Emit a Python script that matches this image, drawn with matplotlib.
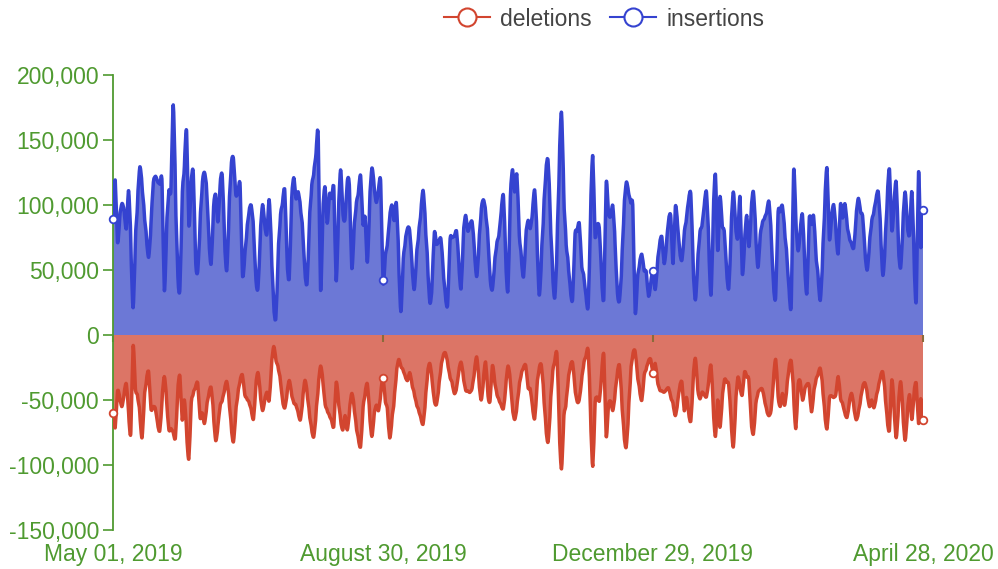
import numpy as np
import pandas as pd
import matplotlib
matplotlib.use("Agg")
import matplotlib.pyplot as plt
from matplotlib.lines import Line2D
from matplotlib.path import Path
from matplotlib.patches import PathPatch
from matplotlib.ticker import FuncFormatter

plt.rcParams['font.family'] = ['Liberation Sans', 'DejaVu Sans']

# daily values, May 01 2019 .. April 28 2020 (in thousands)
insertions = [
    89, 119, 72, 90, 101, 95, 82, 111, 70, 21,
    70, 102, 129, 115, 94, 75, 60, 85, 115, 122,
    118, 116, 115, 35, 80, 110, 114, 177, 110, 50,
    37, 104, 130, 156, 85, 115, 123, 60, 50, 85,
    115, 125, 110, 75, 55, 95, 108, 87, 115, 121,
    75, 50, 95, 130, 135, 109, 110, 113, 48, 60,
    80, 95, 99, 80, 45, 37, 75, 100, 85, 78,
    104, 65, 25, 14, 60, 90, 102, 110, 60, 45,
    100, 121, 105, 110, 98, 80, 50, 41, 85, 113,
    125, 140, 150, 36, 90, 114, 86, 108, 105, 111,
    42, 90, 127, 95, 90, 118, 111, 52, 80, 100,
    110, 122, 86, 90, 56, 100, 128, 115, 102, 112,
    115, 42, 60, 71, 90, 100, 88, 101, 60, 18,
    55, 72, 82, 79, 55, 35, 60, 78, 95, 111,
    85, 55, 25, 40, 78, 70, 72, 73, 50, 30,
    25, 71, 75, 76, 79, 55, 36, 75, 92, 80,
    85, 86, 65, 45, 70, 95, 104, 94, 75, 45,
    35, 55, 70, 78, 95, 106, 60, 35, 100, 127,
    110, 123, 81, 60, 45, 75, 88, 82, 95, 111,
    75, 31, 60, 95, 125, 133, 90, 50, 29, 70,
    130, 171, 110, 73, 55, 35, 29, 75, 80, 85,
    55, 45, 30, 25, 90, 138, 78, 85, 80, 45,
    31, 115, 95, 91, 99, 70, 35, 27, 55, 95,
    117, 110, 102, 95, 19, 42, 55, 62, 50, 48,
    30, 40, 49, 35, 55, 70, 75, 55, 70, 88,
    90, 55, 98, 85, 65, 58, 78, 90, 104, 106,
    55, 27, 55, 78, 85, 100, 109, 70, 31, 90,
    123, 65, 106, 85, 78, 50, 37, 80, 110, 85,
    75, 106, 48, 70, 92, 68, 95, 110, 80, 52,
    75, 86, 90, 95, 102, 75, 40, 31, 91, 95,
    99, 80, 60, 35, 27, 125, 90, 65, 80, 92,
    55, 33, 88, 85, 91, 63, 45, 27, 60, 100,
    128, 75, 90, 100, 80, 63, 100, 90, 101, 85,
    75, 70, 68, 90, 105, 95, 90, 65, 50, 70,
    87, 95, 105, 109, 80, 46, 70, 105, 127, 81,
    100, 117, 70, 52, 85, 110, 85, 78, 110, 60,
    28, 125, 68, 96,
]

deletions = [
    -60, -71, -44, -48, -55, -45, -38, -60, -74, -9,
    -40, -47, -60, -79, -50, -35, -29, -56, -55, -57,
    -68, -73, -50, -32, -50, -72, -72, -75, -78, -45,
    -32, -65, -50, -75, -95, -55, -45, -40, -38, -63,
    -60, -68, -55, -45, -41, -60, -81, -70, -55, -50,
    -42, -36, -50, -70, -82, -60, -45, -35, -31, -45,
    -49, -52, -58, -64, -40, -29, -45, -58, -50, -44,
    -50, -25, -9, -19, -25, -35, -50, -56, -45, -35,
    -45, -52, -54, -60, -65, -50, -35, -45, -60, -72,
    -78, -60, -40, -24, -35, -52, -58, -62, -66, -69,
    -37, -50, -65, -73, -62, -73, -58, -45, -55, -70,
    -80, -85, -58, -45, -38, -60, -78, -62, -54, -58,
    -45, -33, -50, -58, -79, -65, -50, -30, -19, -24,
    -27, -32, -35, -29, -38, -45, -53, -58, -64, -68,
    -50, -30, -22, -35, -50, -53, -40, -25, -16, -14,
    -22, -32, -37, -45, -40, -28, -21, -32, -42, -43,
    -44, -40, -28, -17, -35, -50, -35, -21, -45, -50,
    -24, -35, -45, -50, -54, -56, -40, -24, -35, -55,
    -65, -55, -40, -30, -25, -24, -40, -42, -55, -64,
    -40, -26, -24, -45, -70, -82, -55, -30, -20, -17,
    -70, -103, -65, -53, -35, -24, -22, -40, -51, -49,
    -35, -22, -16, -14, -60, -101, -55, -48, -50, -30,
    -17, -77, -55, -51, -58, -45, -30, -24, -50, -75,
    -86, -60, -30, -15, -13, -30, -42, -50, -32, -26,
    -20, -19, -29, -22, -35, -42, -43, -44, -42, -41,
    -48, -53, -62, -52, -40, -37, -58, -48, -60, -65,
    -35, -18, -40, -49, -44, -46, -47, -35, -24, -55,
    -78, -50, -71, -50, -35, -36, -40, -65, -86, -55,
    -33, -40, -46, -29, -32, -36, -65, -76, -55, -45,
    -42, -42, -50, -58, -62, -56, -35, -19, -45, -55,
    -45, -54, -40, -25, -21, -45, -72, -40, -36, -50,
    -42, -38, -40, -59, -45, -35, -30, -26, -40, -60,
    -72, -50, -47, -48, -45, -32, -48, -53, -60, -63,
    -52, -45, -55, -65, -60, -50, -40, -37, -45, -55,
    -50, -56, -48, -40, -32, -29, -45, -65, -72, -35,
    -55, -79, -55, -36, -60, -81, -60, -46, -65, -45,
    -38, -68, -49, -65,
]

dates = pd.date_range("2019-05-01", periods=len(insertions), freq="D")
label_idx = [0, 121, 242, 363]

green = '#4f9a30'
ins_line = '#3543d0'
ins_fill = '#6c78d6'
del_line = '#d2452f'
del_fill = '#dc7566'


def smooth_verts(xs, ys, k=1 / 5):
    # cubic bezier segments through every data point (like a smoothed line series)
    n = len(xs)
    verts = [(xs[0], ys[0])]
    codes = [Path.MOVETO]
    for i in range(n - 1):
        a = max(i - 1, 0)
        b = min(i + 2, n - 1)
        c1 = (xs[i] + (xs[i + 1] - xs[a]) * k / 2, ys[i] + (ys[i + 1] - ys[a]) * k)
        c2 = (xs[i + 1] - (xs[b] - xs[i]) * k / 2, ys[i + 1] - (ys[b] - ys[i]) * k)
        verts += [c1, c2, (xs[i + 1], ys[i + 1])]
        codes += [Path.CURVE4] * 3
    return verts, codes


def draw_series(ax, xs, ys, line_c, fill_c):
    verts, codes = smooth_verts(xs, ys)
    area = Path(verts + [(xs[-1], 0), (xs[0], 0), (xs[0], ys[0])],
                codes + [Path.LINETO, Path.LINETO, Path.CLOSEPOLY])
    ax.add_patch(PathPatch(area, facecolor=fill_c, lw=0, zorder=1))
    ax.add_patch(PathPatch(Path(verts, codes), fill=False, edgecolor=line_c, lw=2.5,
                           joinstyle='round', capstyle='round', zorder=3))
    ax.plot(xs[label_idx], ys[label_idx], ls='none', marker='o', ms=5.5, mfc='white',
            mec=line_c, mew=1.3, zorder=4, clip_on=False)


ins = np.array(insertions) * 1000
dels = np.array(deletions) * 1000
x = np.arange(len(ins))

fig = plt.figure(figsize=(9.98, 5.69), dpi=100)
ax = fig.add_axes([113 / 998, 39 / 569, 810 / 998, 455 / 569])

draw_series(ax, x, ins, ins_line, ins_fill)
draw_series(ax, x, dels, del_line, del_fill)

ax.set_xlim(0, len(ins) - 1)
ax.set_ylim(-150000, 200000)
ax.set_yticks(np.arange(-150000, 200001, 50000))
ax.yaxis.set_major_formatter(FuncFormatter(lambda v, p: f"{int(v):,}"))
ax.tick_params(axis='y', colors=green, labelsize=16.5, length=7, width=1.2, pad=3)

for s in ['top', 'right']:
    ax.spines[s].set_visible(False)
ax.spines['left'].set_color(green)
ax.spines['left'].set_linewidth(1.3)

# x ticks sit on the zero line, labels along the bottom
ax.spines['bottom'].set_position(('data', 0))
ax.spines['bottom'].set_visible(False)
ax.set_xticks(label_idx)
ax.tick_params(axis='x', length=5, width=1.5, color='#8b6b3a', labelbottom=False)

sec = ax.secondary_xaxis('bottom')
sec.set_xticks(label_idx)
sec.set_xticklabels([dates[i].strftime("%B %d, %Y") for i in label_idx])
sec.tick_params(length=0, colors=green, labelsize=16.5, pad=9)
sec.spines['bottom'].set_visible(False)

handles = [
    Line2D([], [], color=del_line, lw=1.5, marker='o', ms=13, mfc='white', mec=del_line, mew=1.5),
    Line2D([], [], color=ins_line, lw=1.5, marker='o', ms=13, mfc='white', mec=ins_line, mew=1.5),
]
fig.legend(handles, ['deletions', 'insertions'], loc='center', bbox_to_anchor=(604 / 998, 1 - 19 / 569),
           ncol=2, frameon=False, fontsize=16.5, handlelength=2.0, handletextpad=0.45,
           columnspacing=0.8, labelcolor='#444444')

fig.savefig('out.png', dpi=100)
